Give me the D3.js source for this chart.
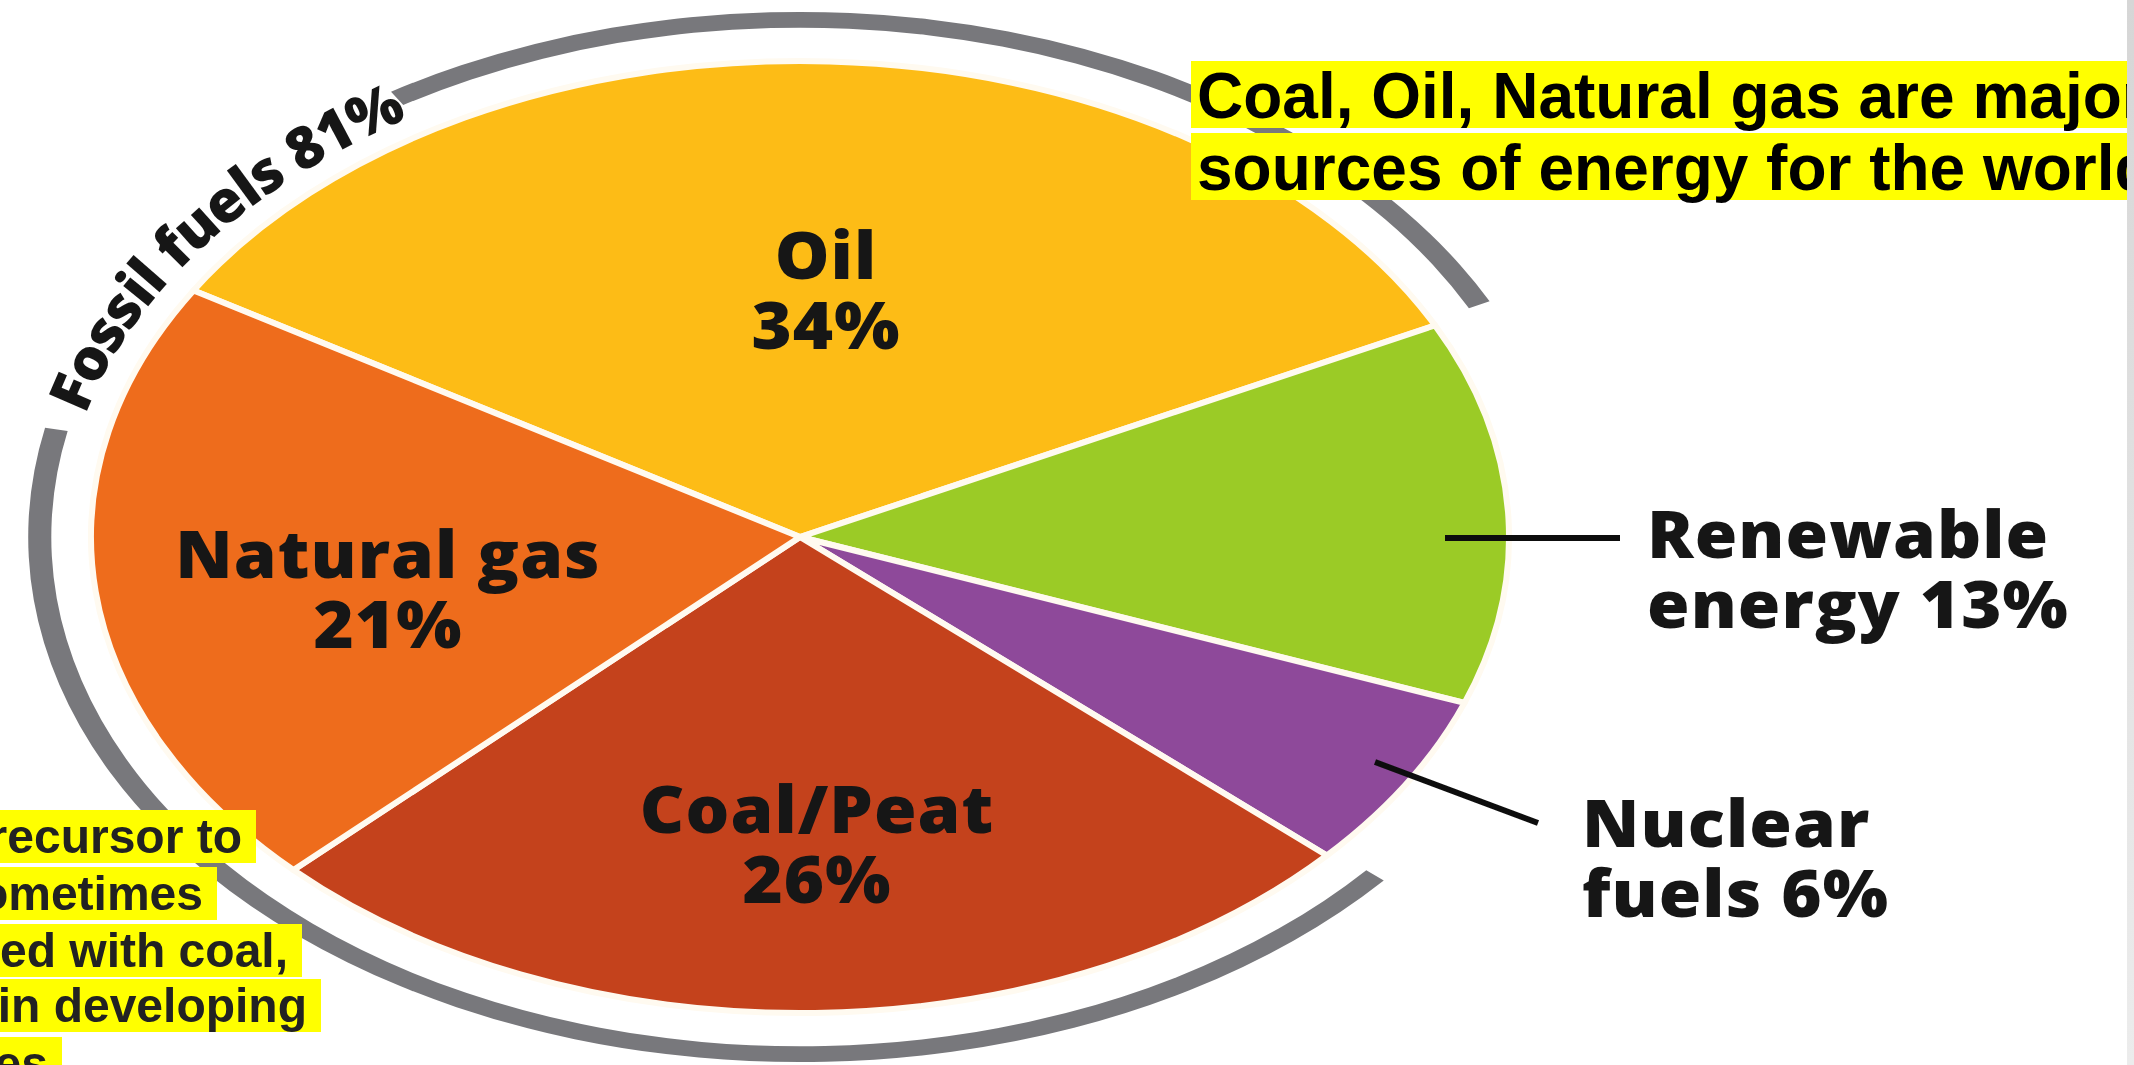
<!DOCTYPE html>
<html>
<head>
<meta charset="utf-8">
<script src="https://cdn.jsdelivr.net/npm/d3@7"></script>
<style>
  html, body { margin: 0; padding: 0; background: #fff; overflow: hidden; }
  svg { display: block; }
</style>
</head>
<body>
<svg id="chart" width="2134" height="1065"></svg>
<script>
// ---- data ----
const categories = ["Oil", "Renewable energy", "Nuclear fuels", "Coal/Peat", "Natural gas"];
const shares = [34, 13, 6, 26, 21];
const labelHead = ["Oil", "Renewable", "Nuclear", "Coal/Peat", "Natural gas"];
const labelTail = ["", "energy ", "fuels ", "", ""];
const fossilGroup = ["Oil", "Coal/Peat", "Natural gas"];
const fossilName = "Fossil fuels";
const titleLines = ["Coal, Oil, Natural gas are major", "sources of energy for the world"];
const noteLines = ["recursor to", "ometimes", "ed with coal,", "in developing", "es"];

// ---- look ----
const W = 2134, H = 1065;
const cx = 800, cy = 537, rx = 709, ry = 476;      // pie drawn as an ellipse
const sx = rx / ry;
const ringSx = 1.47;                               // ring is a little less stretched
const colors = {
  "Oil": "#FDBC17",
  "Renewable energy": "#9BCB27",
  "Nuclear fuels": "#8E4A9A",
  "Coal/Peat": "#C4421C",
  "Natural gas": "#EE6C1B"
};
const deg = Math.PI / 180;
const startAngle = -58.8 * deg;
const labelFont = "'Open Sans', 'Noto Sans', sans-serif";

const svg = d3.select("#chart");
const defs = svg.append("defs");
defs.append("filter").attr("id", "soft")
  .append("feGaussianBlur").attr("stdDeviation", 0.7);
const grad = defs.append("linearGradient").attr("id", "edge")
  .attr("x1", 0).attr("x2", 0).attr("y1", 0).attr("y2", 1);
grad.append("stop").attr("offset", 0).attr("stop-color", "#d6d6d6");
grad.append("stop").attr("offset", 1).attr("stop-color", "#ececec");

const data = categories.map((c, i) => ({ name: c, value: shares[i], i }));
const pie = d3.pie().sort(null).value(d => d.value)
  .startAngle(startAngle).endAngle(startAngle + 2 * Math.PI);
const arcs = pie(data);
const byName = Object.fromEntries(arcs.map(a => [a.data.name, a]));

const art = svg.append("g").attr("filter", "url(#soft)");

// slices (circle of radius ry stretched horizontally)
const pieG = art.append("g").attr("transform", `translate(${cx},${cy}) scale(${sx},1)`);
const arcGen = d3.arc().innerRadius(0).outerRadius(ry);
pieG.selectAll("path.slice").data(arcs).join("path")
  .attr("class", "slice")
  .attr("d", arcGen)
  .attr("fill", d => colors[d.data.name])
  .attr("stroke", "#fffaf0")
  .attr("stroke-width", 6)
  .attr("stroke-linejoin", "round")
  .attr("vector-effect", "non-scaling-stroke");

// fossil fuel ring around Coal/Peat -> Natural gas -> Oil, with a gap for its label
const fossilTotal = d3.sum(data.filter(d => fossilGroup.includes(d.name)), d => d.value);
const ringStart = byName["Coal/Peat"].startAngle - 0.02;
const ringEnd = byName["Oil"].endAngle + 2 * Math.PI - 0.005;
const gapStart = 282 * deg, gapEnd = 328 * deg;
const ringIn = 1.07, ringOut = 1.103, ringMid = 1.087;
const ringG = art.append("g").attr("transform", `translate(${cx},${cy}) scale(${ringSx},1)`);
const ringArc = d3.arc().innerRadius(ry * ringIn).outerRadius(ry * ringOut);
[[ringStart, gapStart], [gapEnd, ringEnd]].forEach(([a, b]) => {
  ringG.append("path")
    .attr("d", ringArc({ startAngle: a, endAngle: b }))
    .attr("fill", "#78787C");
});

// label along the ring
const ellPt = (t, k) => [cx + ry * ringSx * k * Math.sin(t), cy - ry * k * Math.cos(t)];
const pathPts = d3.range(0, 61).map(j => ellPt(gapStart - 8 * deg + (gapEnd - gapStart + 16 * deg) * j / 60, ringMid));
defs.append("path").attr("id", "fossilPath")
  .attr("d", d3.line().curve(d3.curveCatmullRom)(pathPts));
art.append("text")
  .attr("font-family", labelFont)
  .attr("font-weight", 800)
  .attr("font-size", 58)
  .attr("fill", "#151515")
  .attr("dominant-baseline", "central")
  .append("textPath")
  .attr("href", "#fossilPath")
  .attr("startOffset", "50%")
  .attr("text-anchor", "middle")
  .text(`${fossilName} ${fossilTotal}%`);

// slice labels
const spots = {
  "Oil":              { x: 826,  y: 279, anchor: "middle" },
  "Natural gas":      { x: 388,  y: 578, anchor: "middle" },
  "Coal/Peat":        { x: 817,  y: 833, anchor: "middle" },
  "Renewable energy": { x: 1647, y: 558, anchor: "start" },
  "Nuclear fuels":    { x: 1582, y: 847, anchor: "start" }
};
const lineGap = 70;
data.forEach(d => {
  const s = spots[d.name];
  const t = art.append("text")
    .attr("transform", `translate(${s.x},${s.y}) scale(1.06,1)`)
    .attr("font-family", labelFont)
    .attr("font-weight", 800)
    .attr("font-size", 65)
    .attr("letter-spacing", 1)
    .attr("fill", "#151515")
    .attr("text-anchor", s.anchor);
  t.append("tspan").attr("x", 0).attr("y", 0).text(labelHead[d.i]);
  t.append("tspan").attr("x", 0).attr("y", lineGap)
    .text(`${labelTail[d.i]}${d.value}%`);
});

// leader lines for the two outside labels
const leaders = [
  { name: "Renewable energy", from: [1445, 538], to: [1620, 538] },
  { name: "Nuclear fuels",    from: [1375, 762], to: [1538, 823] }
];
art.selectAll("line.leader").data(leaders).join("line")
  .attr("class", "leader")
  .attr("x1", d => d.from[0]).attr("y1", d => d.from[1])
  .attr("x2", d => d.to[0]).attr("y2", d => d.to[1])
  .attr("stroke", "#111").attr("stroke-width", 6);

// highlighted headline, top right
const titleG = svg.append("g");
const titleX = 1197, titleBase = [118, 190], titleSize = 64;
titleLines.forEach((line, i) => {
  titleG.append("rect")
    .attr("x", titleX - 6).attr("y", titleBase[i] - 57)
    .attr("width", W - titleX + 6).attr("height", 67)
    .attr("fill", "#FFFF00");
  titleG.append("text")
    .attr("x", titleX).attr("y", titleBase[i])
    .attr("font-family", "'Liberation Sans', Arial, sans-serif")
    .attr("font-weight", 700)
    .attr("font-size", titleSize)
    .attr("fill", "#000")
    .text(line);
});

// highlighted note, bottom left (runs off the page edge)
const noteG = svg.append("g");
const noteEnd = [242, 203, 288, 307, 48];
const noteBase = [853, 910, 967, 1022, 1080];
noteLines.forEach((line, i) => {
  noteG.append("rect")
    .attr("x", -20).attr("y", noteBase[i] - 43)
    .attr("width", noteEnd[i] + 14 + 20).attr("height", 53)
    .attr("fill", "#FFFF00");
  noteG.append("text")
    .attr("x", noteEnd[i]).attr("y", noteBase[i])
    .attr("text-anchor", "end")
    .attr("font-family", "'Liberation Sans', Arial, sans-serif")
    .attr("font-weight", 700)
    .attr("font-size", 48)
    .attr("fill", "#222")
    .text(line);
});

// page edge strip
svg.append("rect").attr("x", 2127).attr("y", 0).attr("width", 7).attr("height", H)
  .attr("fill", "url(#edge)");
</script>
</body>
</html>
